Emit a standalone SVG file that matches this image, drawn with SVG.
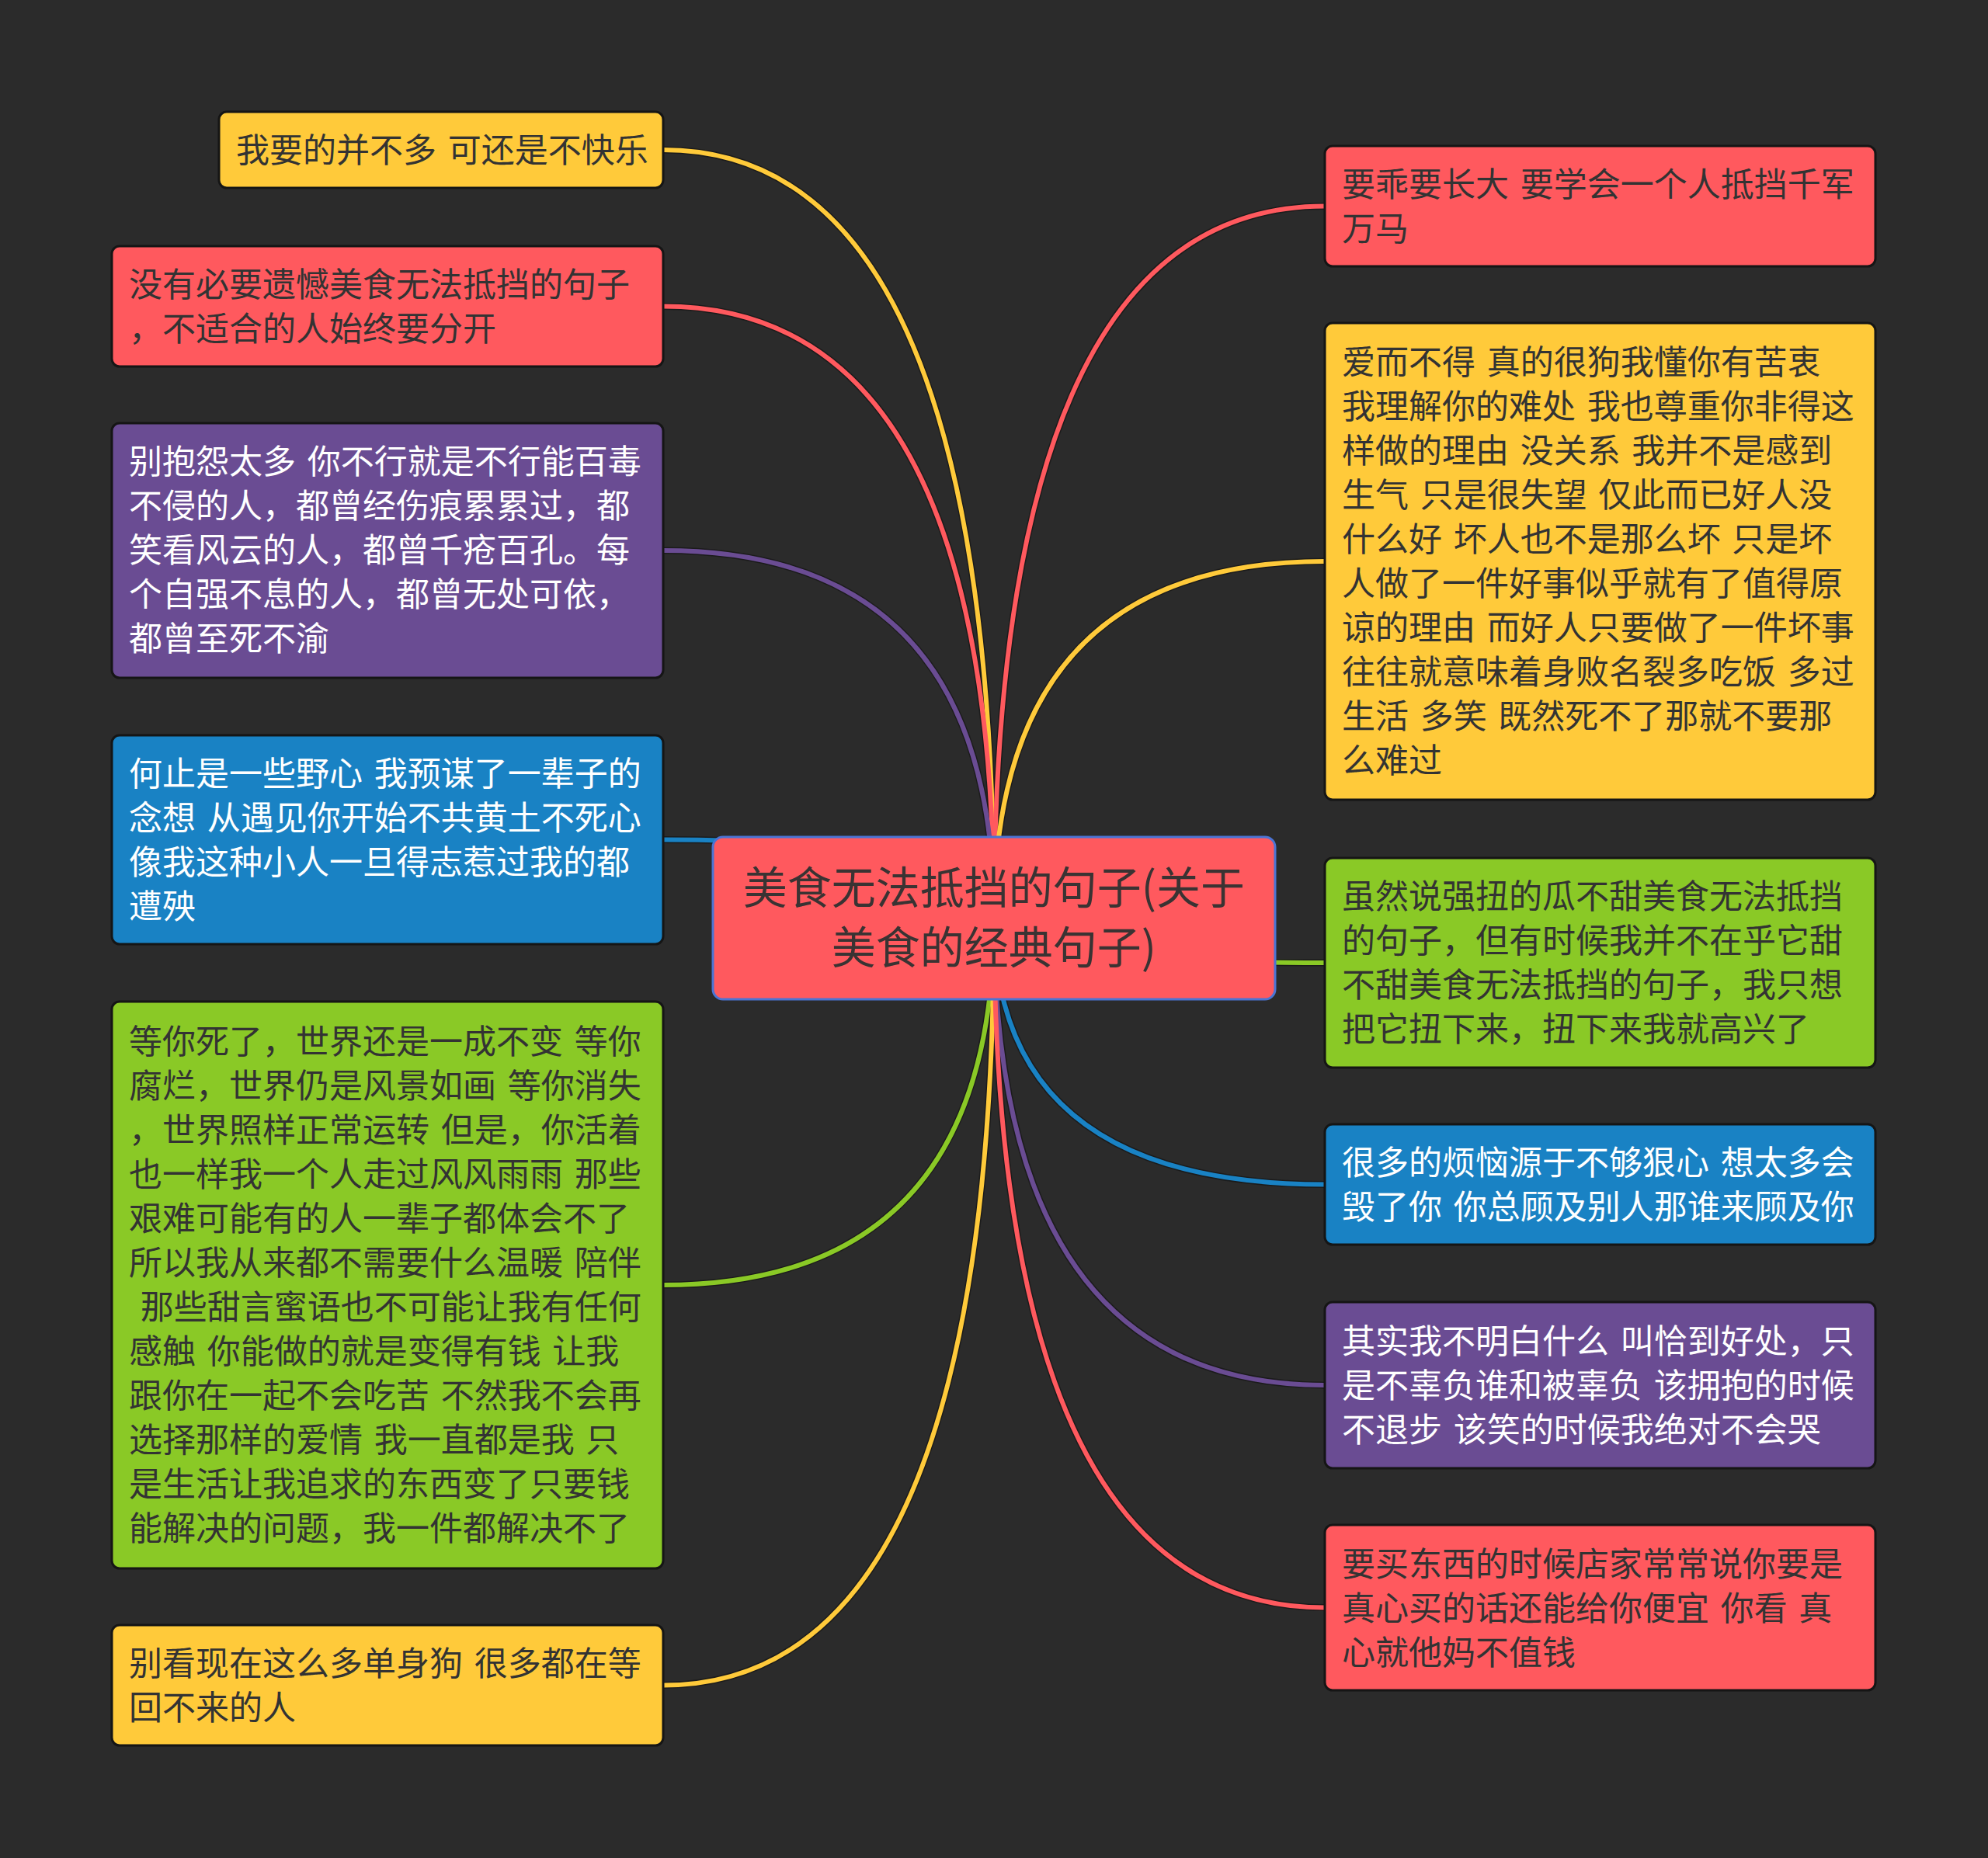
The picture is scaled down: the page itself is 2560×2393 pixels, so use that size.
<svg xmlns="http://www.w3.org/2000/svg" width="2560" height="2393" viewBox="0 0 2560 2393">
<style>
.node{stroke:#151515;stroke-width:3}
.t{font-family:"Noto Sans CJK SC","Noto Sans",sans-serif;font-size:43px;fill:#333;word-spacing:5px}
.w{fill:#ffffff}
.ct{font-family:"Noto Sans CJK SC","Noto Sans",sans-serif;font-size:57px;fill:#3a3333;text-anchor:middle}
.under{fill:none;stroke:#151515;stroke-width:9;stroke-opacity:0.7}
.ln{fill:none;stroke-width:6;stroke-linecap:round}
.red{fill:#ff595e}.yel{fill:#ffca3a}.grn{fill:#8ac926}.blu{fill:#1982c4}.pur{fill:#6a4c93}
</style>
<rect x="0" y="0" width="2560" height="2393" fill="#2b2b2b"/>
<g id="connectors">
<g class="under">
<path d="M854 193 Q1280 193 1280 1182"/>
<path d="M854 394.5 Q1280 394.5 1280 1182"/>
<path d="M854 709 Q1280 709 1280 1182"/>
<path d="M854 1081.5 Q1280 1081.5 1280 1182"/>
<path d="M854 1655 Q1280 1655 1280 1182"/>
<path d="M854 2170.5 Q1280 2170.5 1280 1182"/>
<path d="M1706 265.5 Q1280 265.5 1280 1182"/>
<path d="M1706 723 Q1280 723 1280 1182"/>
<path d="M1706 1240 Q1280 1240 1280 1182"/>
<path d="M1706 1525.5 Q1280 1525.5 1280 1182"/>
<path d="M1706 1784 Q1280 1784 1280 1182"/>
<path d="M1706 2070.5 Q1280 2070.5 1280 1182"/>
</g>
<path class="ln" stroke="#ffca3a" d="M854 193 Q1280 193 1280 1182"/>
<path class="ln" stroke="#ff595e" d="M854 394.5 Q1280 394.5 1280 1182"/>
<path class="ln" stroke="#6a4c93" d="M854 709 Q1280 709 1280 1182"/>
<path class="ln" stroke="#1982c4" d="M854 1081.5 Q1280 1081.5 1280 1182"/>
<path class="ln" stroke="#8ac926" d="M854 1655 Q1280 1655 1280 1182"/>
<path class="ln" stroke="#ffca3a" d="M854 2170.5 Q1280 2170.5 1280 1182"/>
<path class="ln" stroke="#ff595e" d="M1706 265.5 Q1280 265.5 1280 1182"/>
<path class="ln" stroke="#ffca3a" d="M1706 723 Q1280 723 1280 1182"/>
<path class="ln" stroke="#8ac926" d="M1706 1240 Q1280 1240 1280 1182"/>
<path class="ln" stroke="#1982c4" d="M1706 1525.5 Q1280 1525.5 1280 1182"/>
<path class="ln" stroke="#6a4c93" d="M1706 1784 Q1280 1784 1280 1182"/>
<path class="ln" stroke="#ff595e" d="M1706 2070.5 Q1280 2070.5 1280 1182"/>
</g>
<g id="center">
<rect x="918" y="1078" width="724" height="209" rx="13" fill="#ff595e" stroke="#4a74d4" stroke-width="3"/>
<text class="ct"><tspan x="1280" y="1164">美食无法抵挡的句子(关于</tspan><tspan x="1280" y="1241">美食的经典句子)</tspan></text>
</g>
<g id="L1">
<rect class="node yel" x="282" y="144" width="572" height="98" rx="10"/>
<text class="t"><tspan x="304" y="209">我要的并不多 可还是不快乐</tspan></text>
</g>
<g id="L2">
<rect class="node red" x="144" y="317" width="710" height="155" rx="10"/>
<text class="t"><tspan x="166" y="382">没有必要遗憾美食无法抵挡的句子</tspan><tspan x="166" y="439">，不适合的人始终要分开</tspan></text>
</g>
<g id="L3">
<rect class="node pur" x="144" y="545" width="710" height="328" rx="10"/>
<text class="t w"><tspan x="166" y="610">别抱怨太多 你不行就是不行能百毒</tspan><tspan x="166" y="667">不侵的人，都曾经伤痕累累过，都</tspan><tspan x="166" y="724">笑看风云的人，都曾千疮百孔。每</tspan><tspan x="166" y="781">个自强不息的人，都曾无处可依，</tspan><tspan x="166" y="838">都曾至死不渝</tspan></text>
</g>
<g id="L4">
<rect class="node blu" x="144" y="947" width="710" height="269" rx="10"/>
<text class="t w"><tspan x="166" y="1012">何止是一些野心 我预谋了一辈子的</tspan><tspan x="166" y="1069">念想 从遇见你开始不共黄土不死心</tspan><tspan x="166" y="1126">像我这种小人一旦得志惹过我的都</tspan><tspan x="166" y="1183">遭殃</tspan></text>
</g>
<g id="L5">
<rect class="node grn" x="144" y="1290" width="710" height="730" rx="10"/>
<text class="t"><tspan x="166" y="1357">等你死了，世界还是一成不变 等你</tspan><tspan x="166" y="1414">腐烂，世界仍是风景如画 等你消失</tspan><tspan x="166" y="1471">，世界照样正常运转 但是，你活着</tspan><tspan x="166" y="1528">也一样我一个人走过风风雨雨 那些</tspan><tspan x="166" y="1585">艰难可能有的人一辈子都体会不了</tspan><tspan x="166" y="1642">所以我从来都不需要什么温暖 陪伴</tspan><tspan x="166" y="1699" xml:space="preserve"> 那些甜言蜜语也不可能让我有任何</tspan><tspan x="166" y="1756">感触 你能做的就是变得有钱 让我</tspan><tspan x="166" y="1813">跟你在一起不会吃苦 不然我不会再</tspan><tspan x="166" y="1870">选择那样的爱情 我一直都是我 只</tspan><tspan x="166" y="1927">是生活让我追求的东西变了只要钱</tspan><tspan x="166" y="1984">能解决的问题，我一件都解决不了</tspan></text>
</g>
<g id="L6">
<rect class="node yel" x="144" y="2093" width="710" height="155" rx="10"/>
<text class="t"><tspan x="166" y="2158">别看现在这么多单身狗 很多都在等</tspan><tspan x="166" y="2215">回不来的人</tspan></text>
</g>
<g id="R1">
<rect class="node red" x="1706" y="188" width="709" height="155" rx="10"/>
<text class="t"><tspan x="1728" y="253">要乖要长大 要学会一个人抵挡千军</tspan><tspan x="1728" y="310">万马</tspan></text>
</g>
<g id="R2">
<rect class="node yel" x="1706" y="416" width="709" height="614" rx="10"/>
<text class="t"><tspan x="1728" y="482">爱而不得 真的很狗我懂你有苦衷</tspan><tspan x="1728" y="539">我理解你的难处 我也尊重你非得这</tspan><tspan x="1728" y="596">样做的理由 没关系 我并不是感到</tspan><tspan x="1728" y="653">生气 只是很失望 仅此而已好人没</tspan><tspan x="1728" y="710">什么好 坏人也不是那么坏 只是坏</tspan><tspan x="1728" y="767">人做了一件好事似乎就有了值得原</tspan><tspan x="1728" y="824">谅的理由 而好人只要做了一件坏事</tspan><tspan x="1728" y="881">往往就意味着身败名裂多吃饭 多过</tspan><tspan x="1728" y="938">生活 多笑 既然死不了那就不要那</tspan><tspan x="1728" y="995">么难过</tspan></text>
</g>
<g id="R3">
<rect class="node grn" x="1706" y="1105" width="709" height="270" rx="10"/>
<text class="t"><tspan x="1728" y="1170">虽然说强扭的瓜不甜美食无法抵挡</tspan><tspan x="1728" y="1227">的句子，但有时候我并不在乎它甜</tspan><tspan x="1728" y="1284">不甜美食无法抵挡的句子，我只想</tspan><tspan x="1728" y="1341">把它扭下来，扭下来我就高兴了</tspan></text>
</g>
<g id="R4">
<rect class="node blu" x="1706" y="1448" width="709" height="155" rx="10"/>
<text class="t w"><tspan x="1728" y="1513">很多的烦恼源于不够狠心 想太多会</tspan><tspan x="1728" y="1570">毁了你 你总顾及别人那谁来顾及你</tspan></text>
</g>
<g id="R5">
<rect class="node pur" x="1706" y="1677" width="709" height="214" rx="10"/>
<text class="t w"><tspan x="1728" y="1743">其实我不明白什么 叫恰到好处，只</tspan><tspan x="1728" y="1800">是不辜负谁和被辜负 该拥抱的时候</tspan><tspan x="1728" y="1857">不退步 该笑的时候我绝对不会哭</tspan></text>
</g>
<g id="R6">
<rect class="node red" x="1706" y="1964" width="709" height="213" rx="10"/>
<text class="t"><tspan x="1728" y="2030">要买东西的时候店家常常说你要是</tspan><tspan x="1728" y="2087">真心买的话还能给你便宜 你看 真</tspan><tspan x="1728" y="2144">心就他妈不值钱</tspan></text>
</g>
</svg>
